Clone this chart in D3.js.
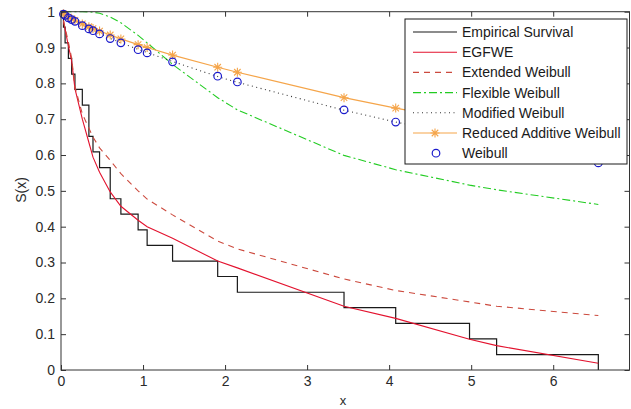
<!DOCTYPE html>
<html>
<head>
<meta charset="utf-8">
<script src="https://cdn.jsdelivr.net/npm/d3@7"></script>
<style>
  html, body { margin: 0; padding: 0; background: #fff; }
  svg { display: block; font-family: "Liberation Sans", Arial, sans-serif; }
</style>
</head>
<body>
<svg id="chart" width="631" height="409"></svg>
<script>
// ---- data ----
const sampleX   = [0.03, 0.05, 0.09, 0.13, 0.17, 0.26, 0.34, 0.39, 0.47, 0.60, 0.73, 0.94, 1.05, 1.36, 1.91, 2.15, 3.45, 4.08, 4.98, 5.31, 6.55];
const empirical = [0.957, 0.913, 0.870, 0.826, 0.783, 0.739, 0.652, 0.609, 0.565, 0.478, 0.435, 0.391, 0.348, 0.304, 0.261, 0.217, 0.174, 0.130, 0.087, 0.043, 0];
const egfwe     = [0.975, 0.950, 0.905, 0.862, 0.785, 0.700, 0.635, 0.594, 0.552, 0.497, 0.457, 0.418, 0.400, 0.368, 0.304, 0.285, 0.178, 0.144, 0.086, 0.068, 0.019];
const extWeib   = [0.975, 0.955, 0.915, 0.870, 0.790, 0.715, 0.675, 0.650, 0.620, 0.585, 0.548, 0.500, 0.477, 0.433, 0.360, 0.338, 0.254, 0.222, 0.190, 0.178, 0.152];
const flexWeib  = [1.000, 1.000, 1.000, 1.000, 1.000, 1.000, 0.9994, 0.9985, 0.9955, 0.985, 0.969, 0.934, 0.913, 0.853, 0.760, 0.726, 0.599, 0.559, 0.516, 0.503, 0.462];
const modWeib   = [0.994, 0.990, 0.984, 0.978, 0.972, 0.962, 0.953, 0.947, 0.939, 0.926, 0.913, 0.895, 0.886, 0.861, 0.819, 0.803, 0.725, 0.692, 0.652, 0.638, 0.585];
const redAddWeib= [0.994, 0.991, 0.985, 0.980, 0.976, 0.966, 0.958, 0.953, 0.946, 0.935, 0.924, 0.908, 0.900, 0.879, 0.845, 0.831, 0.760, 0.731, 0.693, 0.680, 0.634];
const weibull   = [0.993, 0.990, 0.983, 0.978, 0.973, 0.961, 0.952, 0.947, 0.938, 0.925, 0.913, 0.894, 0.885, 0.860, 0.820, 0.804, 0.726, 0.692, 0.650, 0.635, 0.578];
const xTicks = [0, 1, 2, 3, 4, 5, 6];
const yTicks = [0, 0.1, 0.2, 0.3, 0.4, 0.5, 0.6, 0.7, 0.8, 0.9, 1];
const legendLabels = ["Empirical Survival", "EGFWE", "Extended Weibull", "Flexible Weibull", "Modified Weibull", "Reduced Additive Weibull", "Weibull"];

// ---- layout ----
const L = 61, R = 629.5, T = 11.7, B = 370;
const FS = "14px";
const svg = d3.select("#chart");
const x = d3.scaleLinear().domain([0, 6.93]).range([L, R]);
const y = d3.scaleLinear().domain([0, 1]).range([B, T]);
const axisColor = "#333";

const pts = arr => sampleX.map((v, i) => [v, arr[i]]);
const line = d3.line().x(d => x(d[0])).y(d => y(d[1]));

// empirical step
const empPts = [[0, 1]].concat(pts(empirical));
svg.append("path")
  .attr("d", d3.line().x(d => x(d[0])).y(d => y(d[1])).curve(d3.curveStepAfter)(empPts))
  .attr("fill", "none").attr("stroke", "#1a1a1a").attr("stroke-width", 1.2);

const styles = {
  egfwe: { stroke: "#e3122e", dash: null, w: 1.1 },
  ext:   { stroke: "#cc4a3e", dash: "6,5", w: 1.1 },
  flex:  { stroke: "#22cc22", dash: "8,3,2,3", w: 1.1 },
  mod:   { stroke: "#333", dash: "1,3.5", w: 1.1 },
  raw:   { stroke: "#f5a54a", dash: null, w: 1.2 }
};
function drawLine(arr, s) {
  svg.append("path").attr("d", line(pts(arr)))
    .attr("fill", "none").attr("stroke", s.stroke).attr("stroke-width", s.w)
    .attr("stroke-dasharray", s.dash);
}
drawLine(egfwe, styles.egfwe);
drawLine(extWeib, styles.ext);
drawLine(flexWeib, styles.flex);
drawLine(modWeib, styles.mod);
drawLine(redAddWeib, styles.raw);

function starPath(cx, cy, r) {
  const d = r * 0.72;
  return `M${cx - r},${cy}L${cx + r},${cy}M${cx},${cy - r}L${cx},${cy + r}` +
         `M${cx - d},${cy - d}L${cx + d},${cy + d}M${cx - d},${cy + d}L${cx + d},${cy - d}`;
}
svg.append("g").selectAll("path").data(pts(redAddWeib)).join("path")
  .attr("d", d => starPath(x(d[0]), y(d[1]), 4.5))
  .attr("stroke", styles.raw.stroke).attr("stroke-width", 1.1).attr("fill", "none");

svg.append("g").selectAll("circle").data(pts(weibull)).join("circle")
  .attr("cx", d => x(d[0])).attr("cy", d => y(d[1])).attr("r", 3.8)
  .attr("fill", "none").attr("stroke", "#1a1acc").attr("stroke-width", 1.2);

// ---- axes ----
const fmtY = d => d === 0 ? "0" : d === 1 ? "1" : d3.format(".1f")(d);
const gB = svg.append("g").attr("transform", `translate(0,${B})`)
  .call(d3.axisBottom(x).tickValues(xTicks).tickSizeInner(-5).tickSizeOuter(0).tickPadding(6).tickFormat(d3.format("d")));
const gT = svg.append("g").attr("transform", `translate(0,${T})`)
  .call(d3.axisTop(x).tickValues(xTicks).tickSizeInner(-5).tickSizeOuter(0).tickFormat(""));
const gL = svg.append("g").attr("transform", `translate(${L},0)`)
  .call(d3.axisLeft(y).tickValues(yTicks).tickSizeInner(-5).tickSizeOuter(0).tickPadding(6).tickFormat(fmtY));
const gR = svg.append("g").attr("transform", `translate(${R},0)`)
  .call(d3.axisRight(y).tickValues(yTicks).tickSizeInner(-5).tickSizeOuter(0).tickFormat(""));
[gB, gT, gL, gR].forEach(g => {
  g.select(".domain").remove();
  g.selectAll(".tick line").attr("stroke", axisColor);
  g.selectAll("text").attr("fill", "#2a2a2a").style("font-size", FS)
    .style("font-family", '"Liberation Sans", Arial, sans-serif');
});
svg.append("rect").attr("x", L).attr("y", T).attr("width", R - L).attr("height", B - T)
  .attr("fill", "none").attr("stroke", axisColor).attr("stroke-width", 1);

svg.append("text").attr("x", 343).attr("y", 405).attr("text-anchor", "middle")
  .attr("fill", "#2a2a2a").style("font-size", "13px").text("x");
svg.append("text").attr("transform", "translate(26,190) rotate(-90)").attr("text-anchor", "middle")
  .attr("fill", "#2a2a2a").style("font-size", FS).text("S(x)");

// ---- legend ----
const lg = svg.append("g");
lg.append("rect").attr("x", 405).attr("y", 19).attr("width", 222).attr("height", 145)
  .attr("fill", "#fff").attr("stroke", "#1a1a1a").attr("stroke-width", 1);
const legendStyles = [
  { stroke: "#1a1a1a", dash: null, w: 1.2 },
  styles.egfwe, styles.ext, styles.flex, styles.mod, styles.raw, null
];
legendLabels.forEach((lab, i) => {
  const yy = 32 + i * 20.2;
  const s = legendStyles[i];
  if (s) {
    lg.append("line").attr("x1", 413).attr("x2", 457).attr("y1", yy).attr("y2", yy)
      .attr("stroke", s.stroke).attr("stroke-width", s.w).attr("stroke-dasharray", s.dash);
  }
  if (i === 5) {
    lg.append("path").attr("d", starPath(435, yy, 4.5)).attr("stroke", styles.raw.stroke)
      .attr("stroke-width", 1.1).attr("fill", "none");
  }
  if (i === 6) {
    lg.append("circle").attr("cx", 436).attr("cy", yy).attr("r", 3.8)
      .attr("fill", "none").attr("stroke", "#1a1acc").attr("stroke-width", 1.2);
  }
  lg.append("text").attr("x", 462).attr("y", yy + 5).attr("fill", "#1a1a1a")
    .style("font-size", FS).text(lab);
});
</script>
</body>
</html>
